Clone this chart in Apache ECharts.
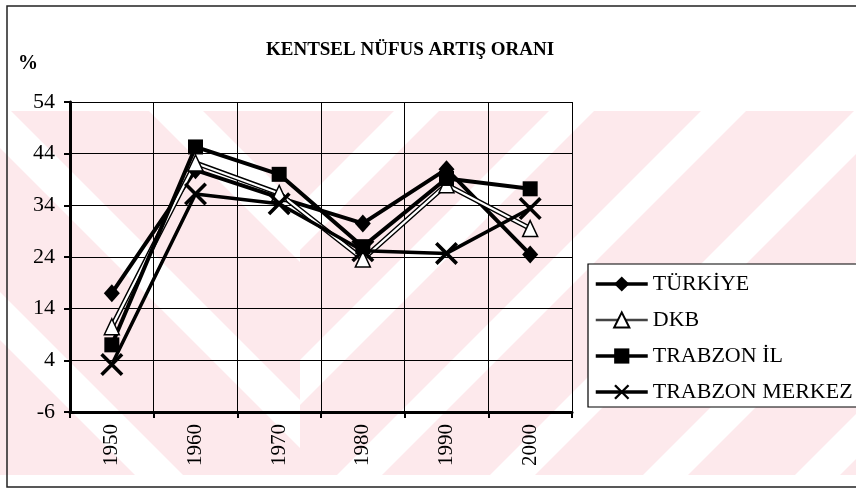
<!DOCTYPE html>
<html>
<head>
<meta charset="utf-8">
<script src="https://cdn.jsdelivr.net/npm/echarts@6/dist/echarts.min.js"></script>
<style>
html,body{margin:0;padding:0;background:#fff;}
#chart{width:856px;height:488px;}
</style>
</head>
<body>
<div id="chart"></div>
<script>
// ---- data ----
const titleText = 'KENTSEL NÜFUS ARTIŞ ORANI';
const unitLabel = '%';
const years = ['1950', '1960', '1970', '1980', '1990', '2000'];
const turkiye = [17, 40.8, 35.5, 30.5, 41, 24.5];
const dkb = [10.5, 42.2, 36.3, 23.6, 38, 29.5];
const trabzonIl = [7, 45.3, 40, 26, 39.2, 37.2];
const trabzonMerkez = [3.2, 36.2, 34.3, 25.2, 24.7, 33.4];
const seriesNames = ['TÜRKİYE', 'DKB', 'TRABZON İL', 'TRABZON MERKEZ'];
const yMin = -6, yMax = 54, yStep = 10;

// ---- decoration: faint watermark stripes ----
function clipPoly(poly, x0, y0, x1, y1) {
  const edges = [
    [p => p[0] >= x0, (a, b) => { const t = (x0 - a[0]) / (b[0] - a[0]); return [x0, a[1] + t * (b[1] - a[1])]; }],
    [p => p[0] <= x1, (a, b) => { const t = (x1 - a[0]) / (b[0] - a[0]); return [x1, a[1] + t * (b[1] - a[1])]; }],
    [p => p[1] >= y0, (a, b) => { const t = (y0 - a[1]) / (b[1] - a[1]); return [a[0] + t * (b[0] - a[0]), y0]; }],
    [p => p[1] <= y1, (a, b) => { const t = (y1 - a[1]) / (b[1] - a[1]); return [a[0] + t * (b[0] - a[0]), y1]; }]
  ];
  let out = poly;
  for (const [inside, inter] of edges) {
    const inp = out; out = [];
    for (let i = 0; i < inp.length; i++) {
      const cur = inp[i], prev = inp[(i + inp.length - 1) % inp.length];
      if (inside(cur)) { if (!inside(prev)) out.push(inter(prev, cur)); out.push(cur); }
      else if (inside(prev)) out.push(inter(prev, cur));
    }
    if (!out.length) break;
  }
  return out;
}
const wmTop = 111, wmBottom = 475, wmSplit = 300;
const graphics = [];
graphics.push({ type: 'rect', z: -20, silent: true, shape: { x: 0, y: wmTop, width: 856, height: wmBottom - wmTop }, style: { fill: '#fde9ec' } });
[[-92, -38], [100, 148], [292, 340]].forEach(([a, b]) => {
  const p = clipPoly([[-600, -600 + a], [1500, 1500 + a], [1500, 1500 + b], [-600, -600 + b]], 0, wmTop, wmSplit, wmBottom);
  if (p.length > 2) graphics.push({ type: 'polygon', z: -19, silent: true, shape: { points: p }, style: { fill: '#fff' } });
});
[[505, 550], [660, 705], [812, 857], [965, 1010], [1118, 1163], [1270, 1315]].forEach(([a, b]) => {
  const p = clipPoly([[-600, a + 600], [1500, a - 1500], [1500, b - 1500], [-600, b + 600]], wmSplit, wmTop, 856, wmBottom);
  if (p.length > 2) graphics.push({ type: 'polygon', z: -19, silent: true, shape: { points: p }, style: { fill: '#fff' } });
});
// outer frame
graphics.push({ type: 'rect', z: 10, silent: true, shape: { x: 7, y: 6, width: 870, height: 481 }, style: { fill: null, stroke: '#222', lineWidth: 1.5 } });
// unit label
graphics.push({ type: 'text', z: 10, x: 28, y: 64, style: { text: unitLabel, font: 'bold 20px "Liberation Serif"', fill: '#000', textAlign: 'center', textVerticalAlign: 'middle' } });

const FONT = 'Liberation Serif';
const xMark = 'path://M0,1.1L1.1,0L10,8.9L8.9,10Z M8.9,0L10,1.1L1.1,10L0,8.9Z';

const chart = echarts.init(document.getElementById('chart'), null, { renderer: 'canvas' });
chart.setOption({
  backgroundColor: '#fff',
  animation: false,
  graphic: graphics,
  title: {
    text: titleText,
    left: 405, top: 36, textAlign: 'center',
    textStyle: { fontFamily: FONT, fontWeight: 'bold', fontSize: 19, color: '#000' }
  },
  grid: { left: 70, top: 102, width: 502, height: 310, containLabel: false },
  legend: {
    orient: 'vertical', left: 588, top: 264,
    padding: [9, 6, 4, 6], itemGap: 14, itemWidth: 52, itemHeight: 19,
    backgroundColor: '#fff', borderColor: '#000', borderWidth: 1.2,
    textStyle: { fontFamily: FONT, fontSize: 22, color: '#000' },
    data: [
      { name: seriesNames[0], lineStyle: { color: '#000', width: 3.5 } },
      { name: seriesNames[1], lineStyle: { color: '#444', width: 2.5 } },
      { name: seriesNames[2], lineStyle: { color: '#000', width: 3.5 } },
      { name: seriesNames[3], lineStyle: { color: '#000', width: 3.5 } }
    ]
  },
  xAxis: [
    {
      type: 'category', data: years, boundaryGap: true, position: 'bottom',
      axisLine: { onZero: false, lineStyle: { color: '#000', width: 3 } },
      axisTick: { show: true, length: 6, lineStyle: { color: '#000', width: 2 } },
      axisLabel: { rotate: 90, margin: 12, fontFamily: FONT, fontSize: 21, color: '#000' },
      splitLine: { show: false }
    },
    {
      type: 'category', data: years.flatMap(y => [y + 'a', y + 'b']), boundaryGap: true, position: 'top',
      axisLine: { show: false, onZero: false }, axisTick: { show: false }, axisLabel: { show: false },
      splitLine: { show: true, lineStyle: { color: '#000', width: 1 } }
    }
  ],
  yAxis: {
    type: 'value', min: yMin, max: yMax, interval: yStep,
    axisLine: { show: true, onZero: false, lineStyle: { color: '#000', width: 3 } },
    axisTick: { show: true, length: 6, lineStyle: { color: '#000', width: 2 } },
    axisLabel: { margin: 15, fontFamily: FONT, fontSize: 22, color: '#000' },
    splitLine: { show: true, lineStyle: { color: '#000', width: 1 } }
  },
  series: [
    {
      name: seriesNames[0], type: 'line', data: turkiye, z: 3,
      symbol: 'diamond', symbolSize: [16, 18],
      lineStyle: { color: '#000', width: 4 }, itemStyle: { color: '#000' }
    },
    {
      name: 'DKB-outline', type: 'line', data: dkb, z: 3, silent: true,
      symbol: 'none', lineStyle: { color: '#000', width: 5 }
    },
    {
      name: seriesNames[1], type: 'line', data: dkb, z: 3,
      symbol: 'triangle', symbolSize: [15, 16],
      lineStyle: { color: '#fff', width: 2.2 },
      itemStyle: { color: '#fff', borderColor: '#000', borderWidth: 1.5 }
    },
    {
      name: seriesNames[2], type: 'line', data: trabzonIl, z: 3,
      symbol: 'rect', symbolSize: 15,
      lineStyle: { color: '#000', width: 4 }, itemStyle: { color: '#000' }
    },
    {
      name: seriesNames[3], type: 'line', data: trabzonMerkez, z: 3,
      symbol: xMark, symbolSize: 23,
      lineStyle: { color: '#000', width: 3.5 }, itemStyle: { color: '#000' }
    }
  ]
});
</script>
</body>
</html>
